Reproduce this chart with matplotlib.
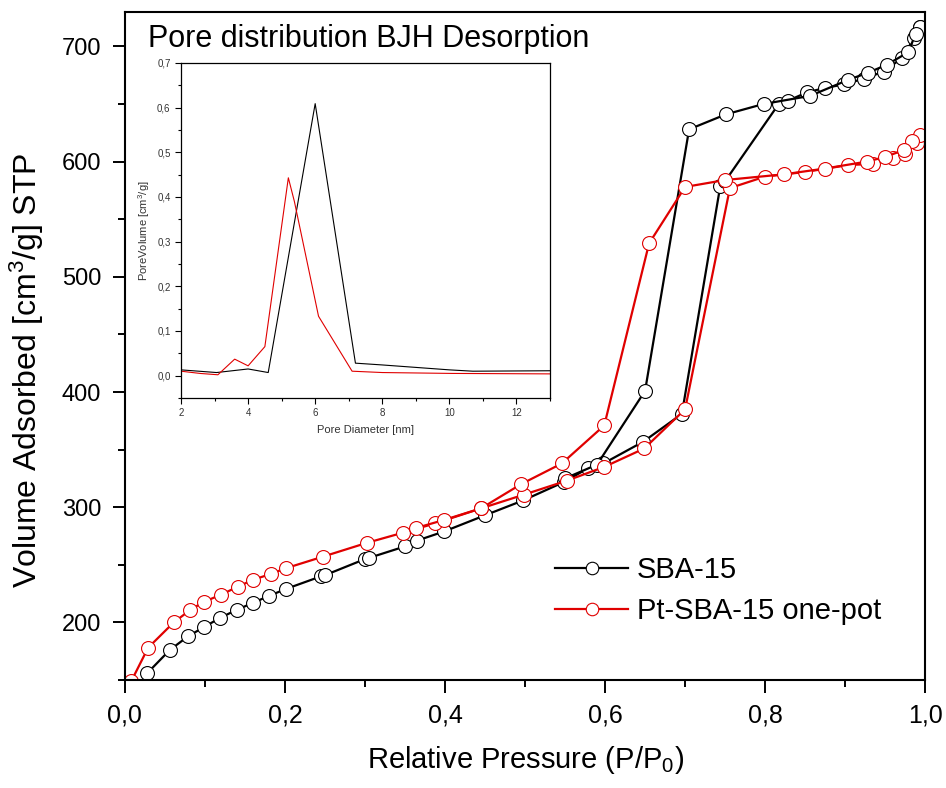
import numpy as np
import matplotlib
matplotlib.use("Agg")
import matplotlib.pyplot as plt
from matplotlib.ticker import MultipleLocator, FuncFormatter

# isotherm data
sba_ads_p = [0.028, 0.056, 0.079, 0.099, 0.119, 0.140, 0.160, 0.180, 0.201, 0.245, 0.250,
             0.300, 0.305, 0.350, 0.365, 0.399, 0.450, 0.498, 0.549, 0.579, 0.598, 0.648,
             0.696, 0.744, 0.750, 0.817, 0.829, 0.852, 0.875, 0.899, 0.923, 0.948, 0.971,
             0.986, 0.994]
sba_ads_v = [156, 176, 188, 196, 204, 211, 217, 223, 229, 240, 241,
             255, 256, 266, 271, 279, 293, 306, 322, 334, 338, 357,
             381, 579, 583, 650, 653, 660, 664, 667, 672, 678, 690,
             707, 717]
sba_des_p = [0.994, 0.988, 0.979, 0.952, 0.928, 0.904, 0.856, 0.798, 0.751, 0.705, 0.650,
             0.590, 0.550]
sba_des_v = [717, 711, 695, 684, 677, 671, 657, 650, 641, 628, 401, 337, 325]

pt_ads_p = [0.008, 0.029, 0.061, 0.082, 0.099, 0.120, 0.141, 0.160, 0.182, 0.201, 0.247,
            0.302, 0.348, 0.388, 0.445, 0.499, 0.552, 0.599, 0.649, 0.700, 0.756, 0.800,
            0.850, 0.904, 0.935, 0.960, 0.975, 0.990]
pt_ads_v = [149, 178, 200, 211, 218, 224, 231, 237, 242, 247, 257,
            269, 278, 286, 299, 311, 323, 335, 351, 385, 577, 587,
            591, 597, 598, 603, 607, 616]
pt_des_p = [0.994, 0.983, 0.973, 0.950, 0.927, 0.875, 0.824, 0.750, 0.700, 0.655, 0.599,
            0.546, 0.495, 0.445, 0.399, 0.364]
pt_des_v = [623, 618, 610, 604, 600, 594, 589, 584, 578, 529, 371,
            338, 320, 299, 289, 282]

# BJH pore distribution (inset)
sba_d = [2.0, 3.06, 4.0, 4.6, 6.0, 7.2, 8.0, 10.0, 10.7, 13.0]
sba_pv = [0.013, 0.007, 0.015, 0.007, 0.609, 0.028, 0.024, 0.013, 0.010, 0.011]
pt_d = [2.0, 2.57, 3.1, 3.6, 4.0, 4.5, 5.2, 5.38, 6.1, 7.1, 8.0, 10.1, 13.0]
pt_pv = [0.010, 0.005, 0.002, 0.037, 0.022, 0.065, 0.443, 0.39, 0.133, 0.010, 0.007, 0.005, 0.004]

plt.rcParams["font.family"] = ["Liberation Sans", "DejaVu Sans"]
plt.rcParams["mathtext.fontset"] = "custom"
plt.rcParams["mathtext.rm"] = "Liberation Sans"
plt.rcParams["mathtext.it"] = "Liberation Sans"

comma = FuncFormatter(lambda v, pos: ("%.1f" % v).replace(".", ","))

fig = plt.figure(figsize=(9.46, 7.88), dpi=100)
ax = fig.add_axes([0.132, 0.137, 0.846, 0.848])

red = "#e00000"
mk = dict(marker="o", markersize=10, markerfacecolor="white", markeredgewidth=0.8, linewidth=1.6)
ax.plot(sba_ads_p, sba_ads_v, color="black", markeredgecolor="black", label="SBA-15", **mk)
ax.plot(sba_des_p, sba_des_v, color="black", markeredgecolor="black", **mk)
ax.plot(pt_ads_p, pt_ads_v, color=red, markeredgecolor=red, label="Pt-SBA-15 one-pot", **mk)
ax.plot(pt_des_p, pt_des_v, color=red, markeredgecolor=red, **mk)

ax.set_xlim(0, 1.0)
ax.set_ylim(150, 730)
ax.xaxis.set_major_locator(MultipleLocator(0.2))
ax.xaxis.set_minor_locator(MultipleLocator(0.1))
ax.xaxis.set_major_formatter(comma)
ax.yaxis.set_major_locator(MultipleLocator(100))
ax.yaxis.set_minor_locator(MultipleLocator(50))
ax.tick_params(which="major", direction="out", length=9, width=1.4)
ax.tick_params(which="minor", direction="out", length=5, width=1.4)
ax.tick_params(axis="y", labelsize=17, pad=8)
ax.tick_params(axis="x", labelsize=18, pad=8)
for s in ax.spines.values():
    s.set_linewidth(1.5)

ax.set_xlabel("Relative Pressure (P/P$_0$)", fontsize=21, labelpad=12)
ax.set_ylabel("Volume Adsorbed [cm$^3$/g] STP", fontsize=23)
ax.yaxis.set_label_coords(-0.098, 0.463)

ax.legend(loc="upper left", bbox_to_anchor=(0.505, 0.225), frameon=False, fontsize=21,
          handlelength=2.5, handletextpad=0.3, labelspacing=0.45, numpoints=1,
          markerscale=0.9)

fig.text(148 / 946, 1 - 47 / 788, "Pore distribution BJH Desorption", fontsize=22, va="baseline")

# inset
ins = fig.add_axes([181 / 946, 1 - 398 / 788, 369 / 946, 335 / 788])
ins.plot(sba_d, sba_pv, color="black", linewidth=0.8)
ins.plot(pt_d, pt_pv, color=red, linewidth=0.8)
ins.set_xlim(2, 13)
ins.set_ylim(-0.05, 0.7)
ins.xaxis.set_major_locator(MultipleLocator(2))
ins.xaxis.set_minor_locator(MultipleLocator(1))
ins.yaxis.set_major_locator(MultipleLocator(0.1))
ins.yaxis.set_minor_locator(MultipleLocator(0.05))
ins.yaxis.set_major_formatter(comma)
ins.tick_params(which="major", direction="out", length=4, width=0.8, labelsize=7, labelcolor="#333333")
ins.tick_params(which="minor", direction="out", length=2, width=0.8)
for s in ins.spines.values():
    s.set_linewidth(0.9)
ins.set_xlabel("Pore Diameter [nm]", fontsize=8, color="#333333", labelpad=5)
ins.set_ylabel("PoreVolume [cm$^3$/g]", fontsize=8, color="#333333")

fig.savefig("out.png", dpi=100)
